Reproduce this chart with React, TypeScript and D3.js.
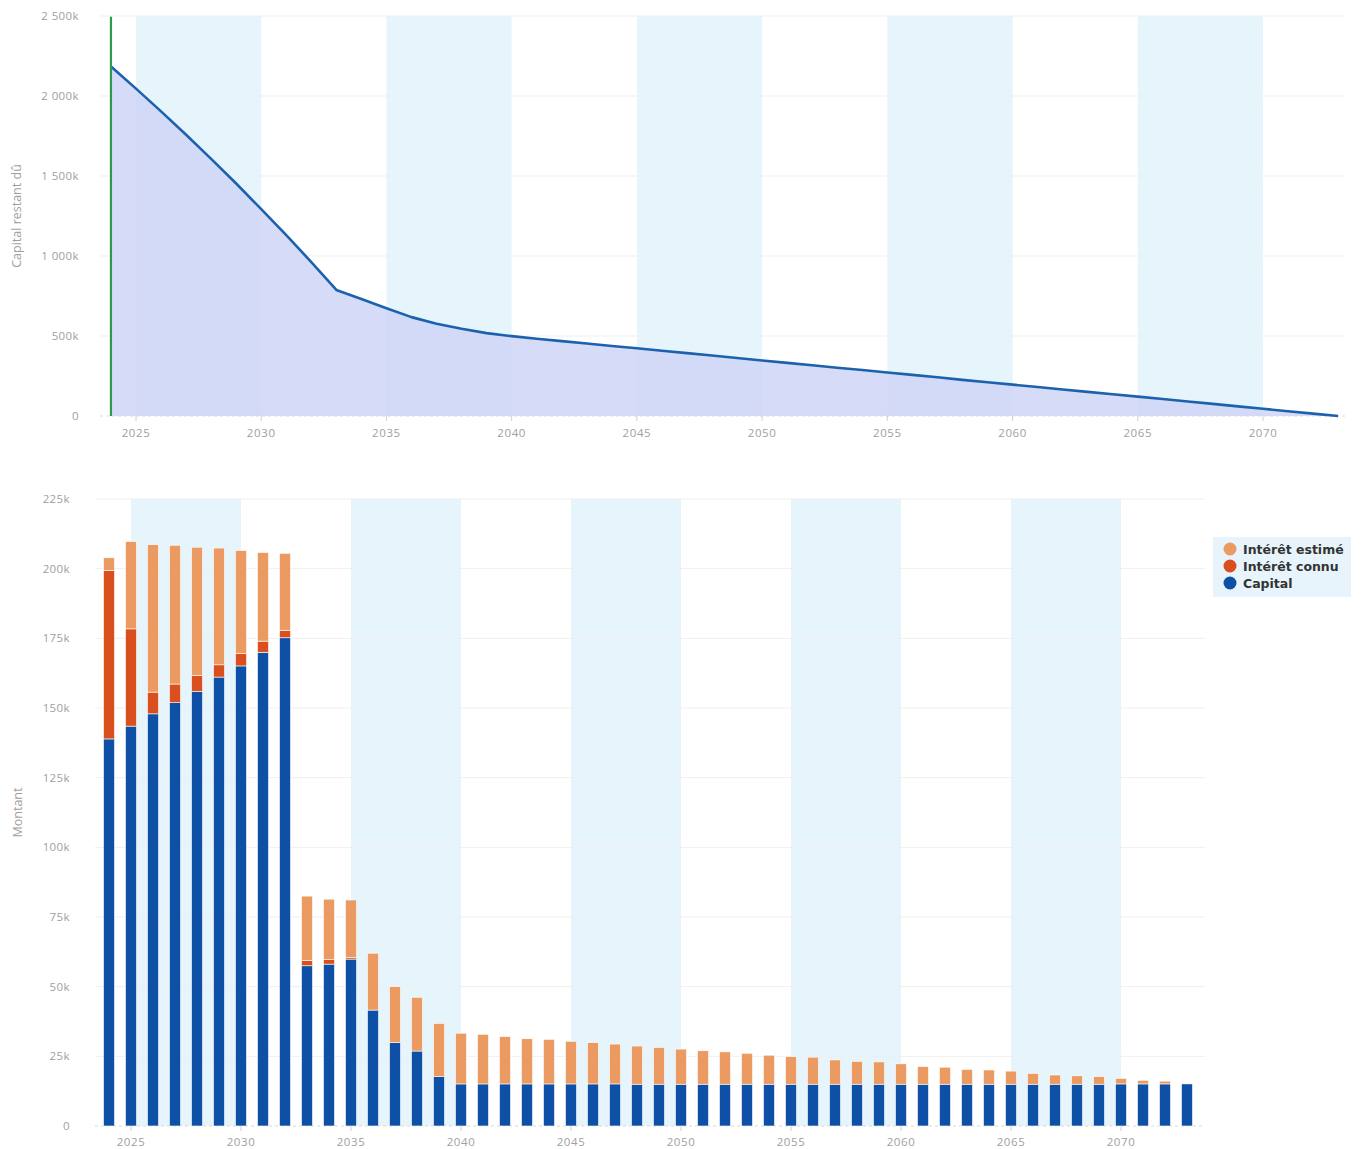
import React from "react";
import * as d3 from "d3";

// Capital restant dû (k€) at the start of each year
const lineYears: number[] = d3.range(2024, 2074);
const remaining: number[] = [
  2184, 2046, 1904, 1758, 1607, 1453, 1293, 1130, 962, 788,
  731, 673, 618, 576, 545, 518, 499, 483, 468, 453,
  438, 423, 408, 393, 378, 363, 347, 332, 317, 302,
  287, 272, 257, 242, 226, 211, 196, 181, 166, 151,
  136, 121, 106, 91, 76, 60, 45, 30, 15, 0,
];

// Yearly payments (k€), stacked: capital, intérêt connu, intérêt estimé
const barYears: number[] = d3.range(2024, 2074);
const capital: number[] = [
  138.9, 143.5, 147.9, 151.9, 156.0, 161.1, 165.1, 170.0, 175.2, 57.5,
  58.1, 59.9, 41.6, 29.9, 26.9, 17.7, 15.1, 15.1, 15.1, 15.1,
  15.1, 15.1, 15.1, 15.1, 15.0, 15.0, 15.0, 15.0, 15.0, 15.0,
  15.0, 15.0, 15.0, 15.0, 15.0, 15.0, 15.0, 15.0, 15.0, 15.0,
  15.0, 15.0, 15.0, 15.0, 15.0, 15.0, 15.1, 15.1, 15.1, 15.1,
];
const interetConnu: number[] = [
  60.4, 34.9, 7.8, 6.7, 5.7, 4.4, 4.4, 4.0, 2.7, 1.9,
  1.6, 0.5, 0, 0, 0, 0, 0, 0, 0, 0,
  0, 0, 0, 0, 0, 0, 0, 0, 0, 0,
  0, 0, 0, 0, 0, 0, 0, 0, 0, 0,
  0, 0, 0, 0, 0, 0, 0, 0, 0, 0,
];
const interetEstime: number[] = [
  4.6, 31.3, 52.9, 49.8, 46.0, 41.9, 37.0, 31.8, 27.6, 23.1,
  21.7, 20.7, 20.4, 20.1, 19.3, 19.1, 18.2, 17.8, 17.0, 16.2,
  16.0, 15.3, 14.8, 14.3, 13.7, 13.2, 12.6, 12.0, 11.6, 11.1,
  10.4, 9.9, 9.7, 8.7, 8.2, 8.0, 7.3, 6.3, 6.1, 5.3,
  5.1, 4.7, 3.9, 3.3, 3.0, 2.7, 2.0, 1.3, 1.0, 0,
];

const bandRanges: [number, number][] = [
  [2025, 2030],
  [2035, 2040],
  [2045, 2050],
  [2055, 2060],
  [2065, 2070],
];
const xTickYears: number[] = [2025, 2030, 2035, 2040, 2045, 2050, 2055, 2060, 2065, 2070];
const topYTicks: number[] = [0, 500, 1000, 1500, 2000, 2500];
const topYLabels: string[] = ["0", "500k", "1 000k", "1 500k", "2 000k", "2 500k"];
const botYTicks: number[] = [0, 25, 50, 75, 100, 125, 150, 175, 200, 225];
const botYLabels: string[] = ["0", "25k", "50k", "75k", "100k", "125k", "150k", "175k", "200k", "225k"];
const startYear = 2024;

const seriesNames: string[] = ["Intérêt estimé", "Intérêt connu", "Capital"];
const seriesColors: string[] = ["#eb9a62", "#d94f1d", "#0d50a6"];

const FONT = "'Open Sans', 'DejaVu Sans', sans-serif";
const AXIS_TEXT = "#a0a0a0";
const BAND = "#e6f5fc";
const GRID = "#efefef";

function TopChart() {
  const left = 100;
  const right = 1345;
  const x = d3.scaleLinear().domain([2025, 2070]).range([136, 1263]);
  const y = d3.scaleLinear().domain([0, 2500]).range([416, 16]);
  const pts = lineYears.map((yr, i) => [yr, remaining[i]] as [number, number]);
  const area = d3
    .area<[number, number]>()
    .x((d) => x(d[0]))
    .y0(y(0))
    .y1((d) => y(d[1]));
  const line = d3
    .line<[number, number]>()
    .x((d) => x(d[0]))
    .y((d) => y(d[1]));
  return (
    <g>
      {bandRanges.map(([a, b]) => (
        <rect key={a} x={x(a)} y={y(2500)} width={x(b) - x(a)} height={y(0) - y(2500)} fill={BAND} />
      ))}
      {topYTicks.map((t) =>
        t === 0 ? null : (
          <line key={t} x1={left} x2={right} y1={y(t)} y2={y(t)} stroke={GRID} strokeWidth={1} />
        )
      )}
      <path d={area(pts) || ""} fill="rgb(208,214,246)" fillOpacity={0.88} />
      <line x1={left} x2={right} y1={y(0)} y2={y(0)} stroke="#d8d8d8" strokeWidth={1} strokeDasharray="3,3" />
      {xTickYears.map((t) => (
        <line key={t} x1={x(t)} x2={x(t)} y1={y(0)} y2={y(0) + 5} stroke="#d0d0d0" />
      ))}
      <path d={line(pts) || ""} fill="none" stroke="#1c61ad" strokeWidth={2.6} strokeLinejoin="round" />
      <line x1={x(startYear)} x2={x(startYear)} y1={y(2495)} y2={y(0)} stroke="#2f9a4a" strokeWidth={2.2} />
      {topYTicks.map((t, i) => (
        <text key={t} x={79} y={y(t) + 4} textAnchor="end" fontSize={11.5} letterSpacing={0.4} fill={AXIS_TEXT} fontFamily={FONT}>
          {topYLabels[i]}
        </text>
      ))}
      {xTickYears.map((t) => (
        <text key={t} x={x(t)} y={437} textAnchor="middle" fontSize={11.5} letterSpacing={0.6} fill={AXIS_TEXT} fontFamily={FONT}>
          {t}
        </text>
      ))}
      <text
        transform={`translate(21, ${y(1250)}) rotate(-90)`}
        textAnchor="middle"
        fontSize={12.5}
        fill={AXIS_TEXT}
        fontFamily={FONT}
      >
        Capital restant dû
      </text>
    </g>
  );
}

function BottomChart() {
  const left = 95;
  const right = 1205;
  const x = d3.scaleLinear().domain([2025, 2070]).range([131, 1121]);
  const y = d3.scaleLinear().domain([0, 225]).range([1126, 499]);
  const barW = 11;
  const rows = barYears.map((yr, i) => ({
    year: yr,
    capital: capital[i],
    connu: interetConnu[i],
    estime: interetEstime[i],
  }));
  const stack = d3.stack<any>().keys(["capital", "connu", "estime"]);
  const layers = stack(rows);
  const layerColors = [seriesColors[2], seriesColors[1], seriesColors[0]];
  return (
    <g>
      {bandRanges.map(([a, b]) => (
        <rect key={a} x={x(a)} y={y(225)} width={x(b) - x(a)} height={y(0) - y(225)} fill={BAND} />
      ))}
      {botYTicks.map((t) =>
        t === 0 ? null : (
          <line key={t} x1={left} x2={right} y1={y(t)} y2={y(t)} stroke={GRID} strokeWidth={1} />
        )
      )}
      <line x1={left} x2={right} y1={y(0)} y2={y(0)} stroke="#d8d8d8" strokeWidth={1} strokeDasharray="3,3" />
      {xTickYears.map((t) => (
        <line key={t} x1={x(t)} x2={x(t)} y1={y(0)} y2={y(0) + 5} stroke="#d0d0d0" />
      ))}
      {layers.map((layer, li) => (
        <g key={li} fill={layerColors[li]}>
          {layer.map((seg: any, i: number) => {
            const h = y(seg[0]) - y(seg[1]);
            if (h <= 0) return null;
            return (
              <rect
                key={i}
                x={x(rows[i].year) - barW / 2}
                y={y(seg[1])}
                width={barW}
                height={h}
                stroke="#ffffff"
                strokeWidth={0.6}
              />
            );
          })}
        </g>
      ))}
      {botYTicks.map((t, i) => (
        <text key={t} x={70} y={y(t) + 4} textAnchor="end" fontSize={11.5} letterSpacing={0.4} fill={AXIS_TEXT} fontFamily={FONT}>
          {botYLabels[i]}
        </text>
      ))}
      {xTickYears.map((t) => (
        <text key={t} x={x(t)} y={1146} textAnchor="middle" fontSize={11.5} letterSpacing={0.6} fill={AXIS_TEXT} fontFamily={FONT}>
          {t}
        </text>
      ))}
      <text
        transform={`translate(22, ${y(112.5)}) rotate(-90)`}
        textAnchor="middle"
        fontSize={12.5}
        fill={AXIS_TEXT}
        fontFamily={FONT}
      >
        Montant
      </text>
      <g>
        <rect x={1213} y={537} width={138} height={60} fill="#e8f4fb" />
        {seriesNames.map((name, i) => (
          <g key={name}>
            <circle cx={1230} cy={549 + i * 17} r={6.5} fill={seriesColors[i]} />
            <text
              x={1243}
              y={553.5 + i * 17}
              fontSize={12.5}
              fontWeight="bold"
              fill="#333333"
              fontFamily="'DejaVu Sans', sans-serif"
            >
              {name}
            </text>
          </g>
        ))}
      </g>
    </g>
  );
}

export default function App() {
  return (
    <svg
      width={1366}
      height={1149}
      style={{ position: "absolute", left: 0, top: 0, background: "#ffffff" }}
    >
      <TopChart />
      <BottomChart />
    </svg>
  );
}
